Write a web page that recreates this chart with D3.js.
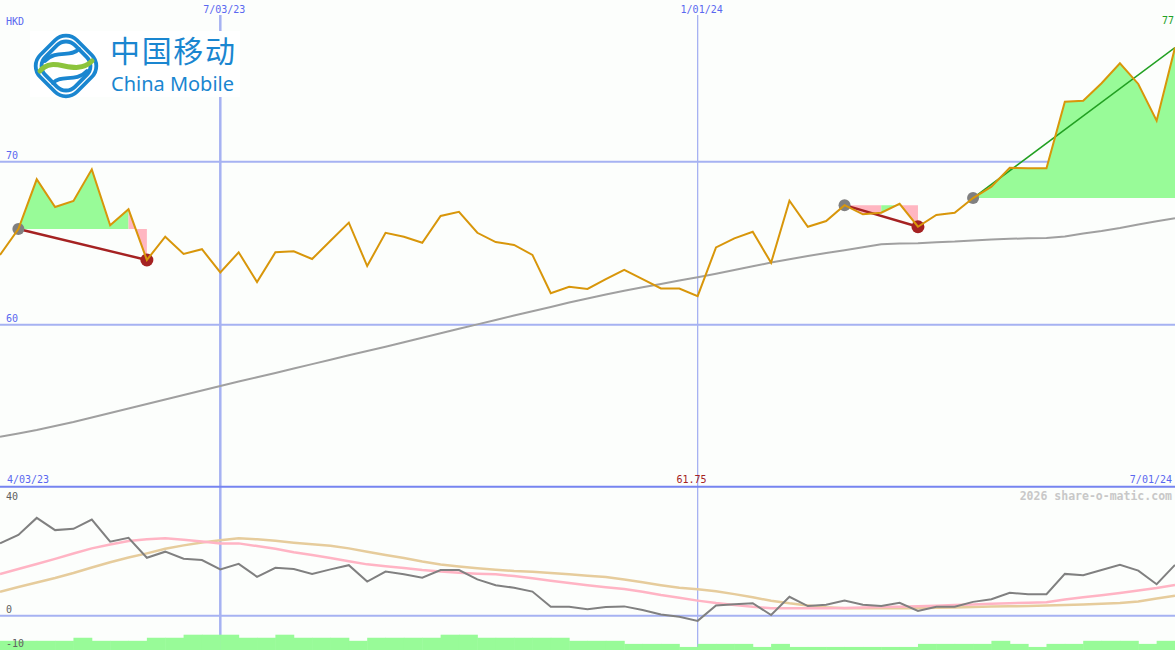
<!DOCTYPE html>
<html>
<head>
<meta charset="utf-8">
<script src="https://cdn.jsdelivr.net/npm/d3@7"></script>
<style>
html,body{margin:0;padding:0;background:#fcfefc;}
svg{display:block;}
</style>
</head>
<body>
<div id="chart"></div>
<script>
// ---------- DATA ----------
const startWeek = new Date(2023, 3, 10);   // first weekly point
const endWeek = new Date(2024, 6, 1);      // last weekly point
const weeks = d3.timeMonday.range(startWeek, d3.timeDay.offset(endWeek, 1));

const price = [64.28,65.87,68.92,67.22,67.59,69.53,66.10,67.08,63.97,65.40,
  64.34,64.63,63.21,64.44,62.62,64.44,64.50,64.03,65.15,66.26,
  63.60,65.64,65.40,65.03,66.67,66.93,65.64,65.07,64.89,64.28,
  61.93,62.33,62.19,62.79,63.36,62.79,62.22,62.22,61.75,64.74,
  65.30,65.70,63.80,67.61,66.01,66.36,67.33,66.77,66.87,67.42,
  66.01,66.73,66.87,67.77,68.47,69.63,69.60,69.60,73.68,73.74,
  74.81,76.04,74.77,72.52,77.00];

const longMA = [53.13,53.33,53.54,53.79,54.03,54.31,54.58,54.86,55.13,55.41,
  55.69,55.96,56.24,56.51,56.77,57.04,57.31,57.58,57.85,58.12,
  58.39,58.65,58.92,59.20,59.47,59.75,60.02,60.29,60.56,60.83,
  61.09,61.36,61.61,61.85,62.08,62.30,62.50,62.71,62.91,63.13,
  63.36,63.58,63.81,64.01,64.21,64.40,64.57,64.75,64.93,64.98,
  64.99,65.06,65.10,65.17,65.23,65.27,65.30,65.32,65.41,65.60,
  65.75,65.93,66.15,66.34,66.53];

const momentum = [22.5,25.1,30.4,26.6,27.0,29.9,23.0,24.2,18.0,19.9,
  17.7,17.3,14.4,16.1,12.1,14.9,14.5,13.0,14.4,15.7,
  10.6,13.7,12.9,11.8,14.2,14.2,11.3,9.5,8.7,7.5,
  2.8,2.8,2.0,2.7,2.9,1.8,0.4,-0.3,-1.6,3.2,
  3.6,3.9,0.2,5.9,3.0,3.4,4.7,3.4,3.0,4.0,
  1.5,2.8,2.8,4.3,5.1,7.1,6.7,6.7,13.0,12.6,
  14.2,15.8,14.0,9.8,15.8];

const fastAvg = [12.95,14.50,16.06,17.67,19.32,20.93,22.11,23.20,23.73,24.04,
  23.60,23.04,22.48,22.48,21.65,20.78,19.72,18.85,17.92,16.93,
  15.96,15.34,14.81,14.19,13.73,13.32,13.07,12.89,12.33,11.65,
  10.90,10.16,9.47,8.82,8.29,7.45,6.43,5.56,4.69,3.94,
  3.32,2.76,2.30,2.30,2.30,2.30,2.39,2.55,2.70,2.76,
  2.92,3.11,3.32,3.51,3.70,3.88,4.00,4.16,5.03,5.75,
  6.37,7.05,7.83,8.60,9.53];

const slowAvg = [7.45,8.91,10.31,11.71,13.26,14.97,16.61,18.07,19.38,20.81,
  21.86,22.73,23.42,24.04,23.73,23.26,22.67,22.20,21.74,20.93,
  19.88,18.85,17.92,16.83,15.90,15.28,14.75,14.29,13.88,13.66,
  13.26,12.86,12.42,12.02,11.24,10.40,9.47,8.66,8.20,7.61,
  6.71,5.71,4.66,3.85,3.17,2.61,2.30,2.30,2.30,2.30,
  2.36,2.45,2.58,2.70,2.83,2.92,3.04,3.17,3.32,3.51,
  3.73,3.94,4.41,5.34,6.21];

const volume = [3,3,3,3,4,3,3,3,4,4,
  5,5,5,4,4,5,4,4,4,3,
  4,4,4,4,5,5,4,4,4,4,
  4,3,3,3,2,2,2,1,2,2,
  2,1,2,1,1,1,1,1,1,1,
  2,2,2,2,3,2,1,2,2,3,
  3,3,2,3];

// swing events: [start index, end index, direction]
const swings = [[1,8,"down"],[46,50,"down"],[53,64,"up"]];

const priceTicks = [60,70];
const indTicks = [40,0,-10];
const dateTicks = [new Date(2023,6,3), new Date(2024,0,1)];
const dateTickLabels = ["7/03/23","1/01/24"];
const dateTickWidths = [2.5,1.3];
const rangeLabels = ["4/03/23","7/01/24"];
const currency = "HKD";
const lowLabel = "61.75";
const lastLabel = "77";
const credit = "2026 share-o-matic.com";

// ---------- CHART ----------
const W = 1175, H = 650;
const MONO = "'DejaVu Sans Mono', monospace";
const svg = d3.select("#chart").append("svg").attr("width", W).attr("height", H);
svg.append("rect").attr("width", W).attr("height", H).attr("fill", "#fcfefc");

const x = d3.scaleTime().domain([startWeek, endWeek]).range([0, W]);
const y = d3.scaleLinear().domain([50, 80]).range([487.7, -1.3]);
const yi = d3.scaleLinear().domain([-10, 40]).range([647.9, 487]);
const yv = d3.scaleLinear().domain([0, 5]).range([650, 634.7]);

const gridC = "#a6b2f2", labC = "#5a68f0";
const txt = (sel) => sel.style("font-family", MONO).attr("font-size", 10);

// horizontal price grid
svg.selectAll(".pg").data(priceTicks).join("line")
  .attr("x1", 0).attr("x2", W).attr("y1", d => y(d)).attr("y2", d => y(d))
  .attr("stroke", gridC).attr("stroke-width", 2);
svg.selectAll(".pgl").data(priceTicks).join("text")
  .attr("x", 6).attr("y", d => y(d) - 2.5).text(d => d)
  .call(txt).attr("fill", labC);

// indicator zero grid
svg.append("line").attr("x1", 0).attr("x2", W).attr("y1", yi(0)).attr("y2", yi(0))
  .attr("stroke", gridC).attr("stroke-width", 2);

// vertical date lines
svg.selectAll(".vg").data(dateTicks).join("line")
  .attr("x1", d => x(d)).attr("x2", d => x(d)).attr("y1", 15).attr("y2", H)
  .attr("stroke", gridC).attr("stroke-width", (d, i) => dateTickWidths[i]);
svg.selectAll(".vgl").data(dateTicks).join("text")
  .attr("x", d => x(d) + 4).attr("y", 12.5).attr("text-anchor", "middle")
  .text((d, i) => dateTickLabels[i]).call(txt).attr("fill", labC);

// panel separator
svg.append("line").attr("x1", 0).attr("x2", W).attr("y1", 486.7).attr("y2", 486.7)
  .attr("stroke", "#7684f0").attr("stroke-width", 2);

// swing fills: runs of segments coloured by whether the segment ends above the start level
const px = i => x(weeks[i]);
const py = i => y(price[i]);
swings.forEach(([s, e]) => {
  const level = price[s];
  let i = s;
  while (i < e) {
    const up = price[i + 1] >= level;
    let j = i;
    while (j < e && (price[j + 1] >= level) === up) j++;
    const pts = [[px(i), y(level)]];
    for (let k = i; k <= j; k++) pts.push([px(k), py(k)]);
    pts.push([px(j), y(level)]);
    svg.append("path").attr("d", "M" + pts.join("L") + "Z")
      .attr("fill", up ? "#98fb98" : "#ffb6c1").attr("fill-rule", "nonzero");
    i = j;
  }
});

// long moving average
svg.append("path").datum(longMA)
  .attr("d", d3.line().x((d, i) => px(i)).y(d => y(d)))
  .attr("fill", "none").attr("stroke", "#a0a0a0").attr("stroke-width", 2);

// swing lines
swings.forEach(([s, e, dir]) => {
  svg.append("line").attr("x1", px(s)).attr("y1", py(s)).attr("x2", px(e)).attr("y2", py(e))
    .attr("stroke", dir === "up" ? "#22a022" : "#a52222").attr("stroke-width", dir === "up" ? 1.6 : 2.4);
});
// swing dots
swings.forEach(([s, e, dir]) => {
  svg.append("circle").attr("cx", px(s)).attr("cy", py(s)).attr("r", 6).attr("fill", "#808080");
  if (dir === "down") svg.append("circle").attr("cx", px(e)).attr("cy", py(e)).attr("r", 6.5).attr("fill", "#a52222");
});

// price line
svg.append("path").datum(price)
  .attr("d", d3.line().x((d, i) => px(i)).y(d => y(d)))
  .attr("fill", "none").attr("stroke", "#d8960a").attr("stroke-width", 2);

// indicator lines
svg.append("path").datum(slowAvg)
  .attr("d", d3.line().x((d, i) => px(i)).y(d => yi(d)))
  .attr("fill", "none").attr("stroke", "#e6cc9c").attr("stroke-width", 2.5);
svg.append("path").datum(fastAvg)
  .attr("d", d3.line().x((d, i) => px(i)).y(d => yi(d)))
  .attr("fill", "none").attr("stroke", "#ffb4c4").attr("stroke-width", 2.5);
svg.append("path").datum(momentum)
  .attr("d", d3.line().x((d, i) => px(i)).y(d => yi(d)))
  .attr("fill", "none").attr("stroke", "#808080").attr("stroke-width", 2);

// volume bars
svg.selectAll(".vol").data(volume).join("rect")
  .attr("x", (d, i) => px(i)).attr("width", (d, i) => px(i + 1) - px(i) + 0.5)
  .attr("y", d => yv(d)).attr("height", d => yv(0) - yv(d))
  .attr("fill", "#98fb98");

// indicator labels
svg.selectAll(".il").data(indTicks).join("text")
  .attr("x", 6).attr("y", d => d === 40 ? 500 : d === 0 ? 613.3 : 646.7)
  .text(d => d).call(txt).attr("fill", "#606060");

// range / info labels
svg.append("text").attr("x", 7).attr("y", 482.7).text(rangeLabels[0]).call(txt).attr("fill", labC);
svg.append("text").attr("x", 1172).attr("y", 482.7).attr("text-anchor", "end").text(rangeLabels[1]).call(txt).attr("fill", labC);
svg.append("text").attr("x", 691.5).attr("y", 482.7).attr("text-anchor", "middle").text(lowLabel).call(txt).attr("fill", "#a52222");
svg.append("text").attr("x", 6).attr("y", 24.5).text(currency).call(txt).attr("fill", labC);
svg.append("text").attr("x", 1174).attr("y", 24).attr("text-anchor", "end").text(lastLabel).call(txt).attr("fill", "#22a022");
svg.append("text").attr("x", 1172).attr("y", 500).attr("text-anchor", "end").text(credit)
  .style("font-family", MONO).attr("font-size", 11.5).attr("font-weight", "bold").attr("fill", "#c8c8c8");

// ---------- LOGO ----------
const logo = svg.append("g");
logo.append("rect").attr("x", 30).attr("y", 31).attr("width", 210).attr("height", 66).attr("fill", "#ffffff");
const blue = "#1a86d0", lgreen = "#8cc43c";
const ic = logo.append("g").attr("transform", "translate(66,66)");
// rounded diamond rings
[52, 42].forEach(s => {
  ic.append("rect").attr("x", -s / 2).attr("y", -s / 2).attr("width", s).attr("height", s)
    .attr("rx", s * 0.3).attr("transform", "rotate(45)")
    .attr("fill", "none").attr("stroke", blue).attr("stroke-width", 3.8);
});
// inner S stripes
ic.append("path").attr("d", "M -21 -5 C -10 -17, 5 -8, 13 -17")
  .attr("fill", "none").attr("stroke", blue).attr("stroke-width", 3.8).attr("stroke-linecap", "round");
ic.append("path").attr("d", "M -13 17 C -5 8, 10 17, 21 5")
  .attr("fill", "none").attr("stroke", blue).attr("stroke-width", 3.8).attr("stroke-linecap", "round");
ic.append("path").attr("d", "M -26 5 C -12 -12, 8 12, 26 -5")
  .attr("fill", "none").attr("stroke", lgreen).attr("stroke-width", 5).attr("stroke-linecap", "round");
logo.append("text").attr("x", 110).attr("y", 62).text("中国移动")
  .style("font-family", "'Noto Sans CJK SC'").attr("font-size", 30).attr("fill", blue)
  .attr("textLength", 125).attr("lengthAdjust", "spacing");
logo.append("text").attr("x", 111).attr("y", 91).text("China Mobile")
  .style("font-family", "'Noto Sans', 'Open Sans', sans-serif").attr("font-size", 20).attr("fill", blue)
  .attr("textLength", 123).attr("lengthAdjust", "spacingAndGlyphs");
</script>
</body>
</html>
